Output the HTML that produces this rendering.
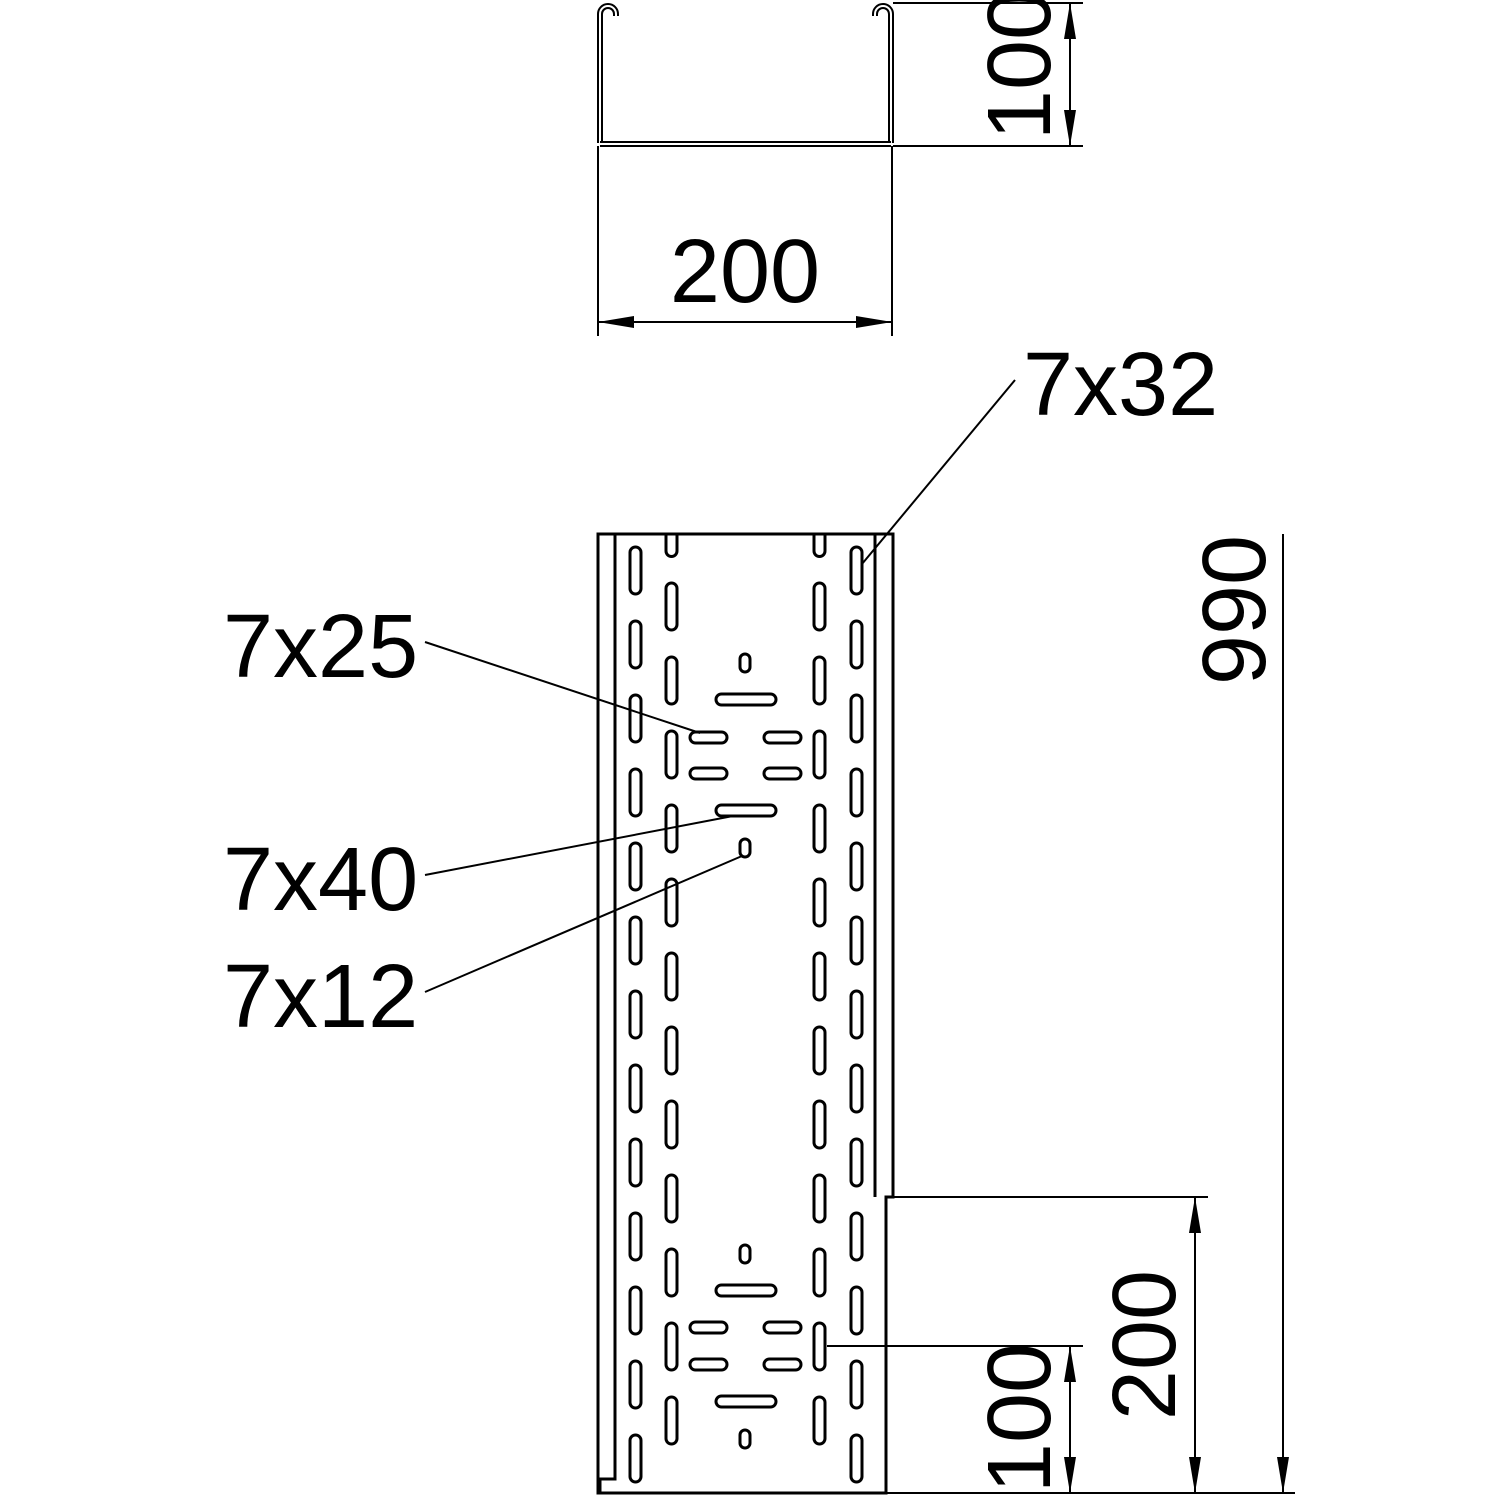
<!DOCTYPE html>
<html><head><meta charset="utf-8"><style>html,body{margin:0;padding:0;background:#fff}svg{display:block}</style></head>
<body>
<svg width="1500" height="1500" viewBox="0 0 1500 1500" xmlns="http://www.w3.org/2000/svg">
<defs>
<rect id="v" width="11" height="47" rx="5.5" fill="none" stroke="#000" stroke-width="3"/>
<rect id="h25" width="37" height="11" rx="5.5" fill="none" stroke="#000" stroke-width="3"/>
<rect id="h40" width="60" height="11" rx="5.5" fill="none" stroke="#000" stroke-width="3"/>
<rect id="s12" width="10" height="18" rx="5" fill="none" stroke="#000" stroke-width="3"/>
<path id="arr" d="M0,0 L-6,36 L6,36 Z" fill="#000"/>
</defs>
<g fill="none" stroke="#000">
<!-- top section view -->
<path d="M600,143 L600,14 A8,8 0 0 1 616,14 L616,16" stroke-width="6"/>
<path d="M600,143 L600,14 A8,8 0 0 1 616,14 L616,16" stroke-width="2" stroke="#fff"/>
<path d="M891,143 L891,14 A8,8 0 0 0 875,14 L875,16" stroke-width="6"/>
<path d="M891,143 L891,14 A8,8 0 0 0 875,14 L875,16" stroke-width="2" stroke="#fff"/>
<line x1="600" y1="144" x2="891" y2="144" stroke-width="6"/>
<line x1="600" y1="144" x2="891" y2="144" stroke-width="2" stroke="#fff"/>
<g stroke-width="2">
<line x1="893" y1="3" x2="1083" y2="3"/>
<line x1="893" y1="146" x2="1083" y2="146"/>
<line x1="1070" y1="3" x2="1070" y2="146"/>
<line x1="598" y1="146" x2="598" y2="336"/>
<line x1="892" y1="146" x2="892" y2="336"/>
<line x1="598" y1="322" x2="892" y2="322"/>
</g>
<!-- plan view outline -->
<g stroke-width="3">
<path d="M598,1493 L598,534 L893,534 L893,1197 L886,1197 L886,1493 Z"/>
<path d="M615,534 L615,1479 L598,1479"/>
<path d="M875,534 L875,1197 M886,1197 L886,1197"/>
<line x1="600" y1="1480" x2="600" y2="1493"/>
</g>
<!-- notches -->
<path d="M666,535 L666,551 A5.5,5.5 0 0 0 677,551 L677,535" stroke-width="3"/>
<path d="M814,535 L814,551 A5.5,5.5 0 0 0 825,551 L825,535" stroke-width="3"/>
<!-- dims right -->
<g stroke-width="2">
<line x1="893" y1="1197" x2="1208" y2="1197"/>
<line x1="827" y1="1346" x2="1083" y2="1346"/>
<line x1="886" y1="1493" x2="1295" y2="1493"/>
<line x1="1195" y1="1197" x2="1195" y2="1493"/>
<line x1="1070" y1="1346" x2="1070" y2="1493"/>
<line x1="1283" y1="534" x2="1283" y2="1493"/>
<!-- leaders -->
<line x1="1015" y1="380" x2="862" y2="564"/>
<line x1="425" y1="642" x2="700" y2="733"/>
<line x1="425" y1="875" x2="733" y2="816"/>
<line x1="425" y1="992" x2="742" y2="856"/>
</g>
</g>
<!-- arrowheads -->
<use href="#arr" transform="translate(1070,3)"/>
<use href="#arr" transform="translate(1070,146) rotate(180)"/>
<use href="#arr" transform="translate(598,322) rotate(-90)"/>
<use href="#arr" transform="translate(892,322) rotate(90)"/>
<use href="#arr" transform="translate(1195,1197)"/>
<use href="#arr" transform="translate(1195,1493) rotate(180)"/>
<use href="#arr" transform="translate(1070,1346)"/>
<use href="#arr" transform="translate(1070,1493) rotate(180)"/>
<use href="#arr" transform="translate(1283,1493) rotate(180)"/>
<!-- slots col A & D -->
<g>
<use href="#v" x="630" y="547"/><use href="#v" x="630" y="621"/><use href="#v" x="630" y="695"/><use href="#v" x="630" y="769"/><use href="#v" x="630" y="843"/><use href="#v" x="630" y="917"/><use href="#v" x="630" y="991"/><use href="#v" x="630" y="1065"/><use href="#v" x="630" y="1139"/><use href="#v" x="630" y="1213"/><use href="#v" x="630" y="1287"/><use href="#v" x="630" y="1361"/><use href="#v" x="630" y="1435"/>
<use href="#v" x="851" y="547"/><use href="#v" x="851" y="621"/><use href="#v" x="851" y="695"/><use href="#v" x="851" y="769"/><use href="#v" x="851" y="843"/><use href="#v" x="851" y="917"/><use href="#v" x="851" y="991"/><use href="#v" x="851" y="1065"/><use href="#v" x="851" y="1139"/><use href="#v" x="851" y="1213"/><use href="#v" x="851" y="1287"/><use href="#v" x="851" y="1361"/><use href="#v" x="851" y="1435"/>
<use href="#v" x="666" y="583"/><use href="#v" x="666" y="657"/><use href="#v" x="666" y="731"/><use href="#v" x="666" y="805"/><use href="#v" x="666" y="879"/><use href="#v" x="666" y="953"/><use href="#v" x="666" y="1027"/><use href="#v" x="666" y="1101"/><use href="#v" x="666" y="1175"/><use href="#v" x="666" y="1249"/><use href="#v" x="666" y="1323"/><use href="#v" x="666" y="1397"/>
<use href="#v" x="814" y="583"/><use href="#v" x="814" y="657"/><use href="#v" x="814" y="731"/><use href="#v" x="814" y="805"/><use href="#v" x="814" y="879"/><use href="#v" x="814" y="953"/><use href="#v" x="814" y="1027"/><use href="#v" x="814" y="1101"/><use href="#v" x="814" y="1175"/><use href="#v" x="814" y="1249"/><use href="#v" x="814" y="1323"/><use href="#v" x="814" y="1397"/>
<!-- top center group -->
<use href="#s12" x="740" y="654"/>
<use href="#h40" x="716" y="694"/>
<use href="#h25" x="690" y="732"/><use href="#h25" x="764" y="732"/>
<use href="#h25" x="690" y="768"/><use href="#h25" x="764" y="768"/>
<use href="#h40" x="716" y="805"/>
<use href="#s12" x="740" y="839"/>
<!-- bottom center group -->
<use href="#s12" x="740" y="1245"/>
<use href="#h40" x="716" y="1285"/>
<use href="#h25" x="690" y="1322"/><use href="#h25" x="764" y="1322"/>
<use href="#h25" x="690" y="1359"/><use href="#h25" x="764" y="1359"/>
<use href="#h40" x="716" y="1396"/>
<use href="#s12" x="740" y="1430"/>
</g>
<!-- texts -->
<g font-family="Liberation Sans, Arial, sans-serif" font-size="90" fill="#000">
<text x="745" y="302" text-anchor="middle">200</text>
<text transform="translate(1050,65) rotate(-90)" text-anchor="middle">100</text>
<text transform="translate(1265,610) rotate(-90)" text-anchor="middle">990</text>
<text transform="translate(1175,1345) rotate(-90)" text-anchor="middle">200</text>
<text transform="translate(1050,1418) rotate(-90)" text-anchor="middle">100</text>
<text x="1023" y="415">7x32</text>
<text x="223" y="677">7x25</text>
<text x="223" y="910">7x40</text>
<text x="223" y="1027">7x12</text>
</g>
</svg>
</body></html>
